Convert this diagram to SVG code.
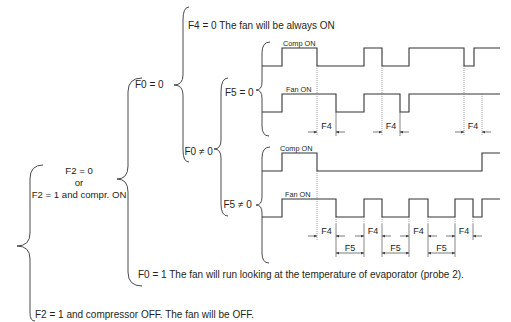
<svg xmlns="http://www.w3.org/2000/svg" width="511" height="322" viewBox="0 0 511 322">
<style>
.t{font-family:"Liberation Sans",Arial,sans-serif;font-size:10px;fill:#231f20}
.m{font-size:9.6px}
.s{font-size:7.3px}
.d{font-size:9px}
.br{fill:none;stroke:#4a4a4a;stroke-width:1}
.w{fill:none;stroke:#333;stroke-width:1.1}
.dot{stroke:#777;stroke-width:0.7;stroke-dasharray:1 1}
.ex{stroke:#555;stroke-width:0.7}
.ar{stroke:#444;stroke-width:0.7;marker-end:url(#ah)}
.ar2{stroke:#444;stroke-width:0.7;marker-start:url(#ah);marker-end:url(#ah)}
</style>
<defs>
<marker id="ah" viewBox="0 0 6 6" refX="6" refY="3" markerWidth="4" markerHeight="3" markerUnits="userSpaceOnUse" orient="auto-start-reverse"><path d="M0,0 L6,3 L0,6 z" fill="#444"/></marker>
</defs>
<rect width="511" height="322" fill="#fff"/>

<g id="brace-f2">
<path class="br" d="M43,165 Q30,165 30,179 L30,233 Q30,246 17,246 Q30,246 30,259 L30,313 Q30,321 35,321"/>
<text class="t m" x="79" y="173.5" text-anchor="middle">F2 = 0</text>
<text class="t m" x="79" y="185.5" text-anchor="middle">or</text>
<text class="t m" x="79" y="198" text-anchor="middle">F2 = 1 and compr. ON</text>
<text class="t" x="35" y="317.5">F2 = 1 and compressor OFF. The fan will be OFF.</text>
</g>

<g id="brace-f0">
<path class="br" d="M142,78 Q128,78 128,92 L128,166 Q128,179 117,179 Q128,179 128,192 L128,272 Q128,286 142,286"/>
<text class="t" x="135" y="87.5">F0 = 0</text>
<text class="t" x="138" y="277.5">F0 = 1 The fan will run looking at the temperature of evaporator (probe 2).</text>
</g>

<g id="brace-f4">
<path class="br" d="M189,7 Q183,7 183,20 L183,75 Q183,85 174,85 Q183,85 183,95 L183,150 Q183,162 189,162"/>
<text class="t" x="188" y="28.5">F4 = 0 The fan will be always ON</text>
<text class="t" x="184.5" y="155">F0 ≠ 0</text>
</g>

<g id="brace-f5">
<path class="br" d="M228,78 Q221,78 221,92 L221,140 Q221,149 214,149 Q221,149 221,158 L221,204 Q221,216 228,216"/>
<text class="t" x="225" y="95.5">F5 = 0</text>
<text class="t" x="223.5" y="207.5">F5 ≠ 0</text>
</g>

<g id="brace-f5-0">
<path class="br" d="M270,42 Q262,42 262,53 L262,82 Q262,90 256,90 Q262,90 262,98 L262,126 Q262,136 269,136"/>
</g>

<g id="brace-f5-n">
<path class="br" d="M270,147 Q262,147 262,158 L262,197 Q262,205 256,205 Q262,205 262,213 L262,253 Q262,263 269,263"/>
</g>

<g id="timing-a">
<text class="t s" x="283" y="46">Comp ON</text>
<polyline class="w" points="262,66 282,66 282,48 317,48 317,66 364,66 364,48 382,48 382,66 409,66 409,48 464,48 464,66 474,66 474,48 500,48"/>
<text class="t s" x="286" y="91.5">Fan ON</text>
<polyline class="w" points="262,112 282,112 282,94 336,94 336,112 364,112 364,94 400,94 400,112 409,112 409,94 500,94"/>
<text class="t d" x="326.5" y="128.5" text-anchor="middle">F4</text>
<text class="t d" x="391" y="128.5" text-anchor="middle">F4</text>
<text class="t d" x="473" y="128.5" text-anchor="middle">F4</text>
</g>

<g id="timing-b">
<text class="t s" x="280" y="151">Comp ON</text>
<polyline class="w" points="262,171 282,171 282,153 317,153 317,171 482,171 482,153 500,153"/>
<text class="t s" x="285" y="196.5">Fan ON</text>
<polyline class="w" points="262,217 282,217 282,199 336,199 336,217 364,217 364,199 382,199 382,217 409,217 409,199 428,199 428,217 455,217 455,199 473,199 473,217 482,217 482,199 500,199"/>
<text class="t d" x="326.5" y="233.5" text-anchor="middle">F4</text>
<text class="t d" x="373" y="233.5" text-anchor="middle">F4</text>
<text class="t d" x="418.5" y="233.5" text-anchor="middle">F4</text>
<text class="t d" x="464" y="233.5" text-anchor="middle">F4</text>
<text class="t d" x="350" y="250.5" text-anchor="middle">F5</text>
<text class="t d" x="395.5" y="250.5" text-anchor="middle">F5</text>
<text class="t d" x="441.5" y="250.5" text-anchor="middle">F5</text>
</g>

<g id="connectors">
<line class="dot" x1="317" y1="66" x2="317" y2="136"/>
<line class="dot" x1="382" y1="66" x2="382" y2="136"/>
<line class="dot" x1="464" y1="66" x2="464" y2="136"/>
<line class="dot" x1="482" y1="94" x2="482" y2="136"/>
<line class="ex" x1="336" y1="112" x2="336" y2="136"/>
<line class="ex" x1="400" y1="112" x2="400" y2="136"/>
<line class="ar" x1="308" y1="132" x2="317" y2="132"/>
<line class="ar" x1="345" y1="132" x2="336" y2="132"/>
<line class="ar" x1="373" y1="132" x2="382" y2="132"/>
<line class="ar" x1="409" y1="132" x2="400" y2="132"/>
<line class="ar" x1="455" y1="132" x2="464" y2="132"/>
<line class="ar" x1="491" y1="132" x2="482" y2="132"/>

<line class="dot" x1="317" y1="171" x2="317" y2="240"/>
<line class="dot" x1="336" y1="217" x2="336" y2="224"/>
<line class="dot" x1="364" y1="217" x2="364" y2="224"/>
<line class="dot" x1="382" y1="217" x2="382" y2="224"/>
<line class="dot" x1="409" y1="217" x2="409" y2="224"/>
<line class="dot" x1="428" y1="217" x2="428" y2="224"/>
<line class="dot" x1="455" y1="217" x2="455" y2="224"/>
<line class="dot" x1="473" y1="217" x2="473" y2="224"/>
<line class="ex" x1="336" y1="224" x2="336" y2="257"/>
<line class="ex" x1="364" y1="224" x2="364" y2="257"/>
<line class="ex" x1="382" y1="224" x2="382" y2="257"/>
<line class="ex" x1="409" y1="224" x2="409" y2="257"/>
<line class="ex" x1="428" y1="224" x2="428" y2="257"/>
<line class="ex" x1="455" y1="224" x2="455" y2="257"/>
<line class="ex" x1="473" y1="224" x2="473" y2="240"/>
<line class="ar" x1="308" y1="236" x2="317" y2="236"/>
<line class="ar" x1="345" y1="236" x2="336" y2="236"/>
<line class="ar" x1="355" y1="236" x2="364" y2="236"/>
<line class="ar" x1="391" y1="236" x2="382" y2="236"/>
<line class="ar" x1="400" y1="236" x2="409" y2="236"/>
<line class="ar" x1="437" y1="236" x2="428" y2="236"/>
<line class="ar" x1="446" y1="236" x2="455" y2="236"/>
<line class="ar" x1="482" y1="236" x2="473" y2="236"/>
<line class="ar2" x1="336" y1="253" x2="364" y2="253"/>
<line class="ar2" x1="382" y1="253" x2="409" y2="253"/>
<line class="ar2" x1="428" y1="253" x2="455" y2="253"/>
</g>
</svg>
